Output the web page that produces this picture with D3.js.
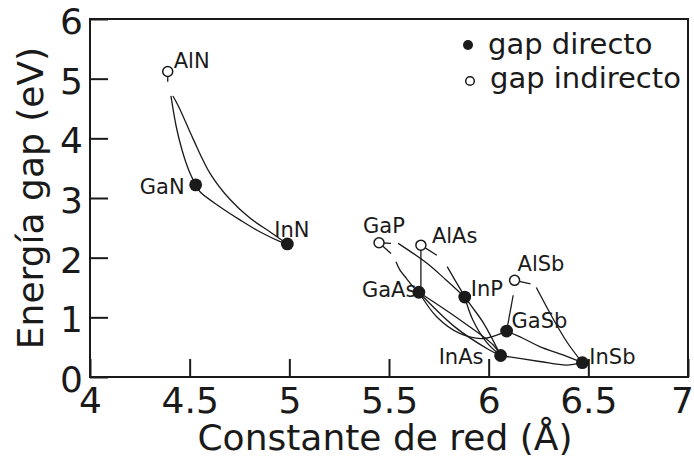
<!DOCTYPE html>
<html>
<head>
<meta charset="utf-8">
<script src="https://cdn.jsdelivr.net/npm/d3@7"></script>
<style>
  html, body { margin: 0; padding: 0; background: #fff; }
  svg { display: block; font-family: "DejaVu Sans", sans-serif; }
</style>
</head>
<body>
<svg id="chart" width="694" height="459"></svg>
<script>
// Binary semiconductors: lattice constant (Å) and band gap (eV)
const compounds = ["AlN", "GaN", "InN", "GaP", "AlAs", "GaAs", "InP", "AlSb", "GaSb", "InAs", "InSb"];
const latticeA  = [4.39, 4.53, 4.99, 5.45, 5.66, 5.65, 5.88, 6.13, 6.09, 6.06, 6.47];
const gapEV     = [5.12, 3.22, 2.23, 2.25, 2.21, 1.42, 1.34, 1.62, 0.77, 0.36, 0.24];
const gapKind   = ["indirecto", "directo", "directo", "indirecto", "indirecto", "directo",
                   "directo", "indirecto", "directo", "directo", "directo"];

// Ternary alloy curves, [lattice constant, gap] along each line
const alGaN  = [[4.406, 4.71], [4.433, 4.19], [4.462, 3.80], [4.495, 3.47], [4.53, 3.22]];
const alInN  = [[4.416, 4.71], [4.445, 4.53], [4.520, 3.97], [4.603, 3.41], [4.704, 2.97],
                [4.804, 2.66], [4.904, 2.43], [4.99, 2.23]];
const inGaN  = [[4.53, 3.22], [4.553, 3.10], [4.653, 2.85], [4.754, 2.63], [4.854, 2.43],
                [4.954, 2.27], [4.99, 2.23]];
const gaInP  = [[5.546, 2.24], [5.689, 1.91], [5.785, 1.63], [5.88, 1.34]];
const gaAsP  = [[5.535, 1.93], [5.555, 1.79], [5.588, 1.65], [5.621, 1.51], [5.65, 1.42]];
const alGaAs = [[5.66, 2.21], [5.66, 1.42]];
const alInAs = [[5.792, 1.85], [5.89, 1.30], [5.975, 0.90], [6.06, 0.36]];
const inAsP  = [[5.88, 1.34], [5.92, 0.96], [5.99, 0.58], [6.06, 0.36]];
const inGaAs = [[5.65, 1.42], [5.855, 0.96], [6.022, 0.54], [6.06, 0.36]];
const inGaAsLow = [[5.65, 1.42], [5.830, 0.84], [5.995, 0.47], [6.06, 0.36]];
const gaAsSb = [[5.65, 1.42], [5.739, 1.01], [5.855, 0.73], [5.970, 0.645], [6.09, 0.77]];
const alGaSb = [[6.123, 1.37], [6.09, 0.77]];
const alInSb = [[6.239, 1.50], [6.331, 0.93], [6.396, 0.57], [6.47, 0.24]];
const gaInSb = [[6.09, 0.77], [6.172, 0.65], [6.256, 0.51], [6.373, 0.37], [6.47, 0.24]];
const inAsSb = [[6.06, 0.36], [6.256, 0.26], [6.390, 0.20], [6.47, 0.24]];

// Short indirect-gap stubs leaving the indirect binaries
const indirectStubs = [
  [[4.39, 5.12], [4.39, 4.95]],
  [[5.45, 2.25], [5.51, 2.24]],
  [[5.45, 2.25], [5.51, 2.07]],
  [[5.66, 2.21], [5.74, 2.04]],
  [[6.13, 1.62], [6.21, 1.56]]
];

const xTickValues = [4, 4.5, 5, 5.5, 6, 6.5, 7];
const yTickValues = [0, 1, 2, 3, 4, 5, 6];
const xTitle = "Constante de red (Å)";
const yTitle = "Energía gap (eV)";
const legendLabels = ["gap directo", "gap indirecto"];

// ---- layout ----
const svg = d3.select("#chart");
const plotL = 90, plotR = 688, plotT = 19, plotB = 377;
const ink = "#1a1a1a";

const x = d3.scaleLinear().domain([4, 7]).range([plotL, plotR]);
const y = d3.scaleLinear().domain([0, 6]).range([plotB, plotT]);

// axes with inward ticks
const xAxis = svg.append("g")
  .attr("transform", `translate(0,${plotB})`)
  .call(d3.axisBottom(x).tickValues(xTickValues).tickFormat(d3.format("~g"))
        .tickSizeInner(-18).tickSizeOuter(0).tickPadding(10));
const yAxis = svg.append("g")
  .attr("transform", `translate(${plotL},0)`)
  .call(d3.axisLeft(y).tickValues(yTickValues).tickFormat(d3.format("d"))
        .tickSizeInner(-18).tickSizeOuter(0).tickPadding(7));

[xAxis, yAxis].forEach(g => {
  g.select(".domain").remove();
  g.selectAll(".tick line").attr("stroke", ink).attr("stroke-width", 2);
  g.selectAll(".tick text").attr("fill", ink).style("font-size", "36px")
    .style("font-family", "DejaVu Sans, sans-serif");
});
// keep the last x label inside the page edge; seat y labels on their ticks
xAxis.selectAll(".tick text").filter(d => d === 7).attr("dx", -6);
yAxis.selectAll(".tick text").attr("dy", "0.4em");

// frame
svg.append("rect")
  .attr("x", plotL).attr("y", plotT)
  .attr("width", plotR - plotL).attr("height", plotB - plotT)
  .attr("fill", "none").attr("stroke", ink).attr("stroke-width", 2);

// axis titles
svg.append("text")
  .attr("x", 385).attr("y", 450)
  .attr("text-anchor", "middle").attr("fill", ink)
  .style("font-size", "36px").text(xTitle);
svg.append("text")
  .attr("transform", `translate(43,${(plotT + plotB) / 2}) rotate(-90)`)
  .attr("text-anchor", "middle").attr("fill", ink)
  .style("font-size", "36px").text(yTitle);

// alloy lines
const line = d3.line().x(d => x(d[0])).y(d => y(d[1])).curve(d3.curveCatmullRom.alpha(0.5));
const alloyLines = [alGaN, alInN, inGaN, gaInP, gaAsP, alGaAs, alInAs, inAsP, inGaAs,
                    inGaAsLow, gaAsSb, alGaSb, alInSb, gaInSb, inAsSb, ...indirectStubs];
svg.append("g").selectAll("path")
  .data(alloyLines).join("path")
  .attr("d", line)
  .attr("fill", "none").attr("stroke", ink).attr("stroke-width", 1.3);

// compound labels (offsets from each marker, in px)
const labelOffset = {
  AlN: [6, -4, "start"], GaN: [-11, 9, "end"], InN: [-13, -7, "start"],
  GaP: [-16, -10, "start"], AlAs: [11, -2, "start"], GaAs: [-57, 5, "start"],
  InP: [6, -1, "start"], AlSb: [3, -9, "start"], GaSb: [5, -3, "start"],
  InAs: [-62, 8, "start"], InSb: [7, 1, "start"]
};
const points = compounds.map((c, i) => ({ name: c, a: latticeA[i], e: gapEV[i], kind: gapKind[i] }));

svg.append("g").selectAll("text")
  .data(points).join("text")
  .attr("x", d => x(d.a) + labelOffset[d.name][0])
  .attr("y", d => y(d.e) + labelOffset[d.name][1])
  .attr("text-anchor", d => labelOffset[d.name][2])
  .attr("fill", ink)
  .style("font-size", "21px")
  .text(d => d.name);

// markers
svg.append("g").selectAll("circle")
  .data(points).join("circle")
  .attr("cx", d => x(d.a)).attr("cy", d => y(d.e))
  .attr("r", d => d.kind === "directo" ? 6.4 : 5)
  .attr("fill", d => d.kind === "directo" ? ink : "#fff")
  .attr("stroke", ink).attr("stroke-width", d => d.kind === "directo" ? 0 : 1.5);

// legend
const legend = svg.append("g");
legend.append("circle").attr("cx", 468).attr("cy", 45).attr("r", 5).attr("fill", ink);
legend.append("circle").attr("cx", 470).attr("cy", 81).attr("r", 4.3)
  .attr("fill", "#fff").attr("stroke", ink).attr("stroke-width", 1.5);
legend.selectAll("text")
  .data(legendLabels).join("text")
  .attr("x", (d, i) => i === 0 ? 488 : 490)
  .attr("y", (d, i) => i === 0 ? 54 : 88)
  .attr("fill", ink).style("font-size", "29px")
  .text(d => d);
</script>
</body>
</html>
